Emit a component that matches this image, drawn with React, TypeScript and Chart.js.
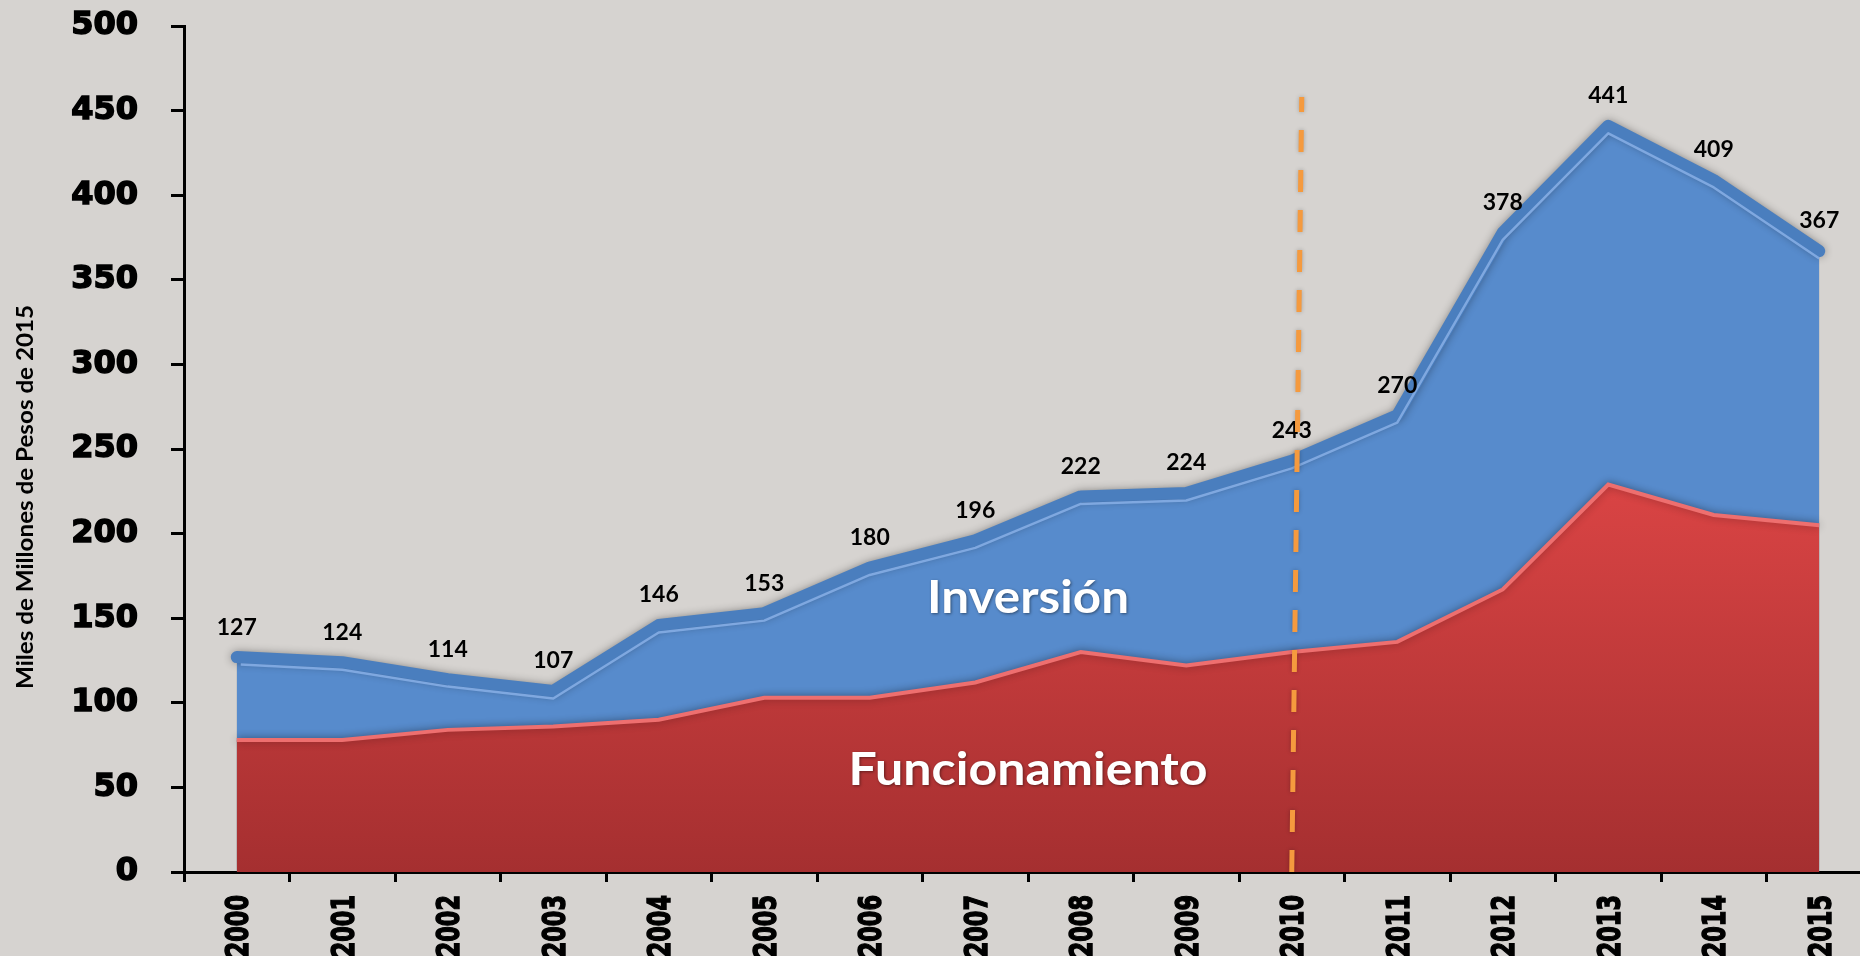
import React, { useEffect, useRef } from "react";
import { Chart, registerables } from "chart.js";

Chart.register(...registerables);

// ---- Data ----
const YEARS = ["2000", "2001", "2002", "2003", "2004", "2005", "2006", "2007", "2008", "2009", "2010", "2011", "2012", "2013", "2014", "2015"];
const TOTAL = [127, 124, 114, 107, 146, 153, 180, 196, 222, 224, 243, 270, 378, 441, 409, 367];
const FUNCIONAMIENTO = [78, 78, 84, 86, 90, 103, 103, 112, 130, 122, 130, 136, 167, 229, 211, 205];
const Y_MIN = 0;
const Y_MAX = 500;
const Y_STEP = 50;
const Y_TITLE = "Miles de Millones de Pesos de 2015";
const LABEL_INVERSION = "Inversión";
const LABEL_FUNCIONAMIENTO = "Funcionamiento";
const MARKER_YEAR = "2010";
const MARKER_TOP = 458;

const BG = "#d6d3d0";

const overlayPlugin = {
  id: "overlay",
  beforeDraw(chart: any) {
    const { ctx, width, height } = chart;
    ctx.save();
    ctx.fillStyle = BG;
    ctx.fillRect(0, 0, width, height);
    ctx.restore();
  },
  beforeDatasetsDraw(chart: any) {
    const ctx = chart.ctx;
    ctx.save();
    ctx.shadowColor = "rgba(0,0,0,0.32)";
    ctx.shadowBlur = 9;
    ctx.shadowOffsetX = 0;
    ctx.shadowOffsetY = 0;
  },
  afterDatasetDraw(chart: any, args: any) {
    if (args.index !== 1) return;
    const ctx = chart.ctx;
    const pts = chart.getDatasetMeta(1).data;
    ctx.save();
    ctx.shadowColor = "transparent";
    ctx.shadowBlur = 0;
    ctx.strokeStyle = "#7fa8e0";
    ctx.lineWidth = 2.5;
    ctx.lineJoin = "round";
    ctx.beginPath();
    pts.forEach((p: any, i: number) => {
      const x = p.x + (i === 0 ? 4 : 0);
      const y = p.y + 7.5;
      if (i === 0) ctx.moveTo(x, y);
      else ctx.lineTo(x, y);
    });
    ctx.stroke();
    ctx.restore();
  },
  afterDatasetsDraw(chart: any) {
    const ctx = chart.ctx;
    ctx.restore();
    const xs = chart.scales.x;
    const ys = chart.scales.y;

    // X tick labels (rotated, condensed)
    ctx.save();
    ctx.fillStyle = "#000";
    ctx.strokeStyle = "#000";
    ctx.lineWidth = 1.5;
    ctx.font = "bold 32px 'DejaVu Sans'";
    ctx.textAlign = "right";
    ctx.textBaseline = "middle";
    YEARS.forEach((yr, i) => {
      const x = xs.getPixelForValue(i) + 3;
      ctx.save();
      ctx.translate(x, ys.bottom + 23);
      ctx.rotate(-Math.PI / 2);
      ctx.scale(0.7, 1);
      ctx.fillText(yr, 0, 0);
      ctx.strokeText(yr, 0, 0);
      ctx.restore();
    });
    ctx.restore();

    // Y title
    ctx.save();
    ctx.fillStyle = "#000";
    ctx.font = "bold 22px Lato";
    ctx.textAlign = "center";
    ctx.textBaseline = "middle";
    ctx.translate(26, 497);
    ctx.rotate(-Math.PI / 2);
    const tw = ctx.measureText(Y_TITLE).width;
    ctx.scale(384 / tw, 1);
    ctx.fillText(Y_TITLE, 0, 0);
    ctx.restore();

    // Data labels
    const meta = chart.getDatasetMeta(1);
    ctx.save();
    ctx.fillStyle = "#000";
    ctx.font = "bold 23px Lato";
    ctx.textAlign = "center";
    ctx.textBaseline = "middle";
    meta.data.forEach((p: any, i: number) => {
      ctx.fillText(String(TOTAL[i]), p.x, p.y - 30);
    });
    ctx.restore();

    // Area labels
    const drawArea = (text: string, xv: number, yv: number, target: number) => {
      ctx.save();
      ctx.font = "bold 46px Lato";
      ctx.textAlign = "center";
      ctx.textBaseline = "middle";
      ctx.fillStyle = "#ffffff";
      ctx.shadowColor = "rgba(0,0,0,0.45)";
      ctx.shadowBlur = 3;
      ctx.shadowOffsetX = 1;
      ctx.shadowOffsetY = 1;
      const w = ctx.measureText(text).width;
      ctx.translate(xs.getPixelForValue(xv), ys.getPixelForValue(yv));
      ctx.scale(target / w, 1);
      ctx.fillText(text, 0, 0);
      ctx.restore();
    };
    drawArea(LABEL_INVERSION, 7.5, 162, 202);
    drawArea(LABEL_FUNCIONAMIENTO, 7.5, 60, 359);

    // Dashed marker line
    const mi = YEARS.indexOf(MARKER_YEAR);
    const mx = xs.getPixelForValue(mi);
    const yb = ys.getPixelForValue(0);
    const yt = ys.getPixelForValue(MARKER_TOP);
    ctx.save();
    ctx.strokeStyle = "#f59a3e";
    ctx.lineWidth = 5;
    ctx.setLineDash([22, 18]);
    ctx.shadowColor = "rgba(0,0,0,0.25)";
    ctx.shadowBlur = 4;
    ctx.beginPath();
    ctx.moveTo(mx, yb);
    ctx.lineTo(mx + 10, yt);
    ctx.stroke();
    ctx.restore();
  },
};

export default function App() {
  const ref = useRef<HTMLCanvasElement>(null);

  useEffect(() => {
    const canvas = ref.current!;
    const chart = new Chart(canvas, {
      type: "line",
      data: {
        labels: YEARS,
        datasets: [
          {
            label: LABEL_FUNCIONAMIENTO,
            data: FUNCIONAMIENTO,
            fill: "origin",
            backgroundColor: (c: any) => {
              const ch = c.chart;
              const { ctx, chartArea, scales } = ch;
              if (!chartArea || !scales.y) return "#c03a3a";
              const g = ctx.createLinearGradient(0, scales.y.getPixelForValue(240), 0, scales.y.getPixelForValue(0));
              g.addColorStop(0, "#dc4545");
              g.addColorStop(1, "#a52f30");
              return g;
            },
            borderColor: "#ee6f6f",
            borderWidth: 4,
            pointRadius: 0,
            tension: 0,
          },
          {
            label: LABEL_INVERSION,
            data: TOTAL,
            fill: "origin",
            backgroundColor: "#578bcc",
            borderColor: "#4a7ebe",
            borderWidth: 12,
            borderCapStyle: "round",
            borderJoinStyle: "round",
            pointRadius: 0,
            tension: 0,
          },
        ],
      },
      options: {
        animation: false,
        responsive: false,
        layout: { padding: { left: 0, right: 8, top: 26, bottom: 74 } },
        plugins: {
          legend: { display: false },
          tooltip: { enabled: false },
        },
        scales: {
          x: {
            type: "category",
            offset: true,
            grid: {
              offset: true,
              drawOnChartArea: false,
              drawTicks: true,
              tickLength: 10,
              color: "#000",
              lineWidth: 3,
            },
            border: { display: true, color: "#000", width: 3 },
            ticks: { display: false },
          },
          y: {
            min: Y_MIN,
            max: Y_MAX,
            ticks: {
              stepSize: Y_STEP,
              color: "#000",
              padding: 33,
              textStrokeColor: "#000",
              textStrokeWidth: 1.5,
              font: { family: "'DejaVu Sans'", size: 32, weight: "bold" },
            },
            grid: {
              drawOnChartArea: false,
              drawTicks: true,
              tickLength: 13,
              color: "#000",
              lineWidth: 3,
            },
            border: { display: true, color: "#000", width: 3 },
            afterFit: (s: any) => {
              s.width = 184;
              s.paddingTop = 0;
              s.paddingBottom = 0;
            },
          },
        },
      } as any,
      plugins: [overlayPlugin],
    });
    return () => chart.destroy();
  }, []);

  return (
    <div
      style={{
        position: "fixed",
        left: 0,
        top: 0,
        width: 1860,
        height: 956,
        overflow: "hidden",
        background: BG,
      }}
    >
      <canvas ref={ref} width={1880} height={956} style={{ display: "block" }} />
    </div>
  );
}
